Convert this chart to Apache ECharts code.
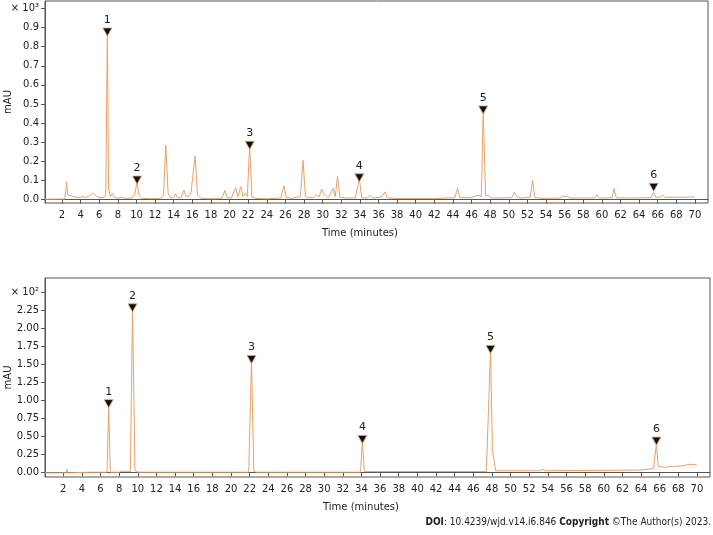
<!DOCTYPE html>
<html>
<head>
<meta charset="utf-8">
<script src="https://cdn.jsdelivr.net/npm/echarts@6/dist/echarts.min.js"></script>
<style>
  html, body { margin: 0; padding: 0; background: #fff; }
  #myChart { width: 713px; height: 535px; }
</style>
</head>
<body>
<div id="myChart"></div>
<script>
// time ticks (minutes)
var timeTicks = [2,4,6,8,10,12,14,16,18,20,22,24,26,28,30,32,34,36,38,40,42,44,46,48,50,52,54,56,58,60,62,64,66,68,70];
var topTicks = [0,100,200,300,400,500,600,700,800,900,1000];
var bottomTicks = [0,25,50,75,100,125,150,175,200,225,250];

// upper chromatogram, [time, mAU]
var topTrace = [
  [0.17,2],[2.3,3],[2.4,8],[2.5,92],[2.6,25],[2.8,18],[3.0,20],[3.2,20],[3.5,12],[3.9,10],[4.3,15],[4.6,12],
  [5.0,22],[5.3,35],[5.6,20],[5.9,12],[6.4,10],[6.7,20],[6.87,885],[7.0,60],[7.2,15],[7.45,32],[7.6,12],
  [8.0,8],[8.5,12],[8.8,6],[9.5,8],[9.8,25],[10.05,88],[10.3,20],[10.6,6],[11.5,5],[12.5,5],[12.9,20],
  [13.15,285],[13.4,30],[13.7,8],[14.0,12],[14.2,30],[14.4,10],[14.8,12],[15.1,50],[15.3,18],[15.6,15],
  [15.85,35],[16.05,25],[16.3,228],[16.55,25],[16.9,8],[17.5,5],[18.5,4],[19.2,8],[19.5,48],[19.75,10],
  [20.2,8],[20.65,62],[20.9,15],[21.2,68],[21.45,15],[21.7,35],[21.9,15],[22.16,280],[22.4,15],[22.8,6],
  [24,4],[25.5,8],[25.85,72],[26.1,12],[26.6,6],[27.6,15],[27.9,205],[28.15,15],[28.6,10],[29.0,10],
  [29.35,25],[29.6,12],[29.9,55],[30.1,30],[30.35,20],[30.6,10],[31.15,58],[31.35,15],[31.6,122],[31.85,12],
  [32.5,8],[33.5,8],[33.94,110],[34.2,10],[34.8,8],[35.1,22],[35.4,8],[36.3,12],[36.7,40],[36.95,10],
  [38,5],[42,5],[44.2,10],[44.5,58],[44.75,10],[46.0,10],[46.5,20],[46.8,22],[47.05,15],[47.25,472],
  [47.5,20],[47.8,22],[48.1,8],[50.3,10],[50.6,38],[50.9,14],[51.3,8],[52.3,12],[52.56,102],[52.8,12],
  [53.5,6],[55.5,8],[55.8,18],[56.0,8],[56.3,15],[56.6,8],[59.2,8],[59.46,25],[59.7,8],[61.1,10],
  [61.3,57],[61.55,10],[62.5,8],[65.3,10],[65.56,40],[65.8,12],[66.2,12],[66.5,22],[66.8,12],[69.0,12],
  [69.3,15],[69.6,13],[70,13]
];
var topPeakTimes = [6.87, 10.06, 22.16, 33.94, 47.25, 65.56];
var topPeakValues = [877, 102, 284, 114, 469, 64];

// lower chromatogram, [time, mAU]
var bottomTrace = [
  [0.04,-1],[2.3,-1],[2.4,4],[2.45,-1],[2.6,-1],[5,0],[6.7,0],[6.87,94],[7.05,0],[8.0,0],[8.3,1.5],[8.5,0],
  [9.2,1],[9.43,227],[9.7,2],[10.0,0],[13.4,0],[13.6,1.5],[13.8,0],[21.9,0],[22.2,156],[22.45,1],[22.8,0],
  [33.9,0],[34.1,44],[34.3,1],[47.4,1],[47.85,170],[48.05,32],[48.2,30],[48.4,2],[53,2],[53.5,4],[53.8,2],
  [64,3],[65.35,5],[65.65,40],[65.85,8],[66.5,7],[68.5,9],[69.2,11],[69.35,9],[70,10]
];
var bottomPeakTimes = [6.87, 9.43, 22.2, 34.1, 47.85, 65.65];
var bottomPeakValues = [95.5, 229, 157, 45.7, 171, 43.3];

var peakLabels = ['1','2','3','4','5','6'];

function peaks(times, values) {
  return times.map(function (t, i) { return { value: [t, values[i]], name: peakLabels[i] }; });
}

var lineColor = '#E9A266';
var axisColor = '#555';
var font = 'DejaVu Sans';

function xAxisCfg(idx, min) {
  return {
    type: 'value', gridIndex: idx, min: min, max: 71.4,
    name: 'Time (minutes)', nameLocation: 'middle', nameGap: 25, nameMoveOverlap: false,
    nameTextStyle: { fontFamily: font, fontSize: 10, color: '#222', padding: [0, 33, 0, 0] },
    axisLine: { lineStyle: { color: axisColor } },
    axisTick: { customValues: timeTicks, length: 4, lineStyle: { color: axisColor } },
    axisLabel: { customValues: timeTicks, fontFamily: font, fontSize: 10, color: '#222', margin: 7 },
    splitLine: { show: false }
  };
}

function yAxisCfg(idx, min, max, ticks, fmt) {
  return {
    type: 'value', gridIndex: idx, min: min, max: max,
    name: 'mAU', nameLocation: 'middle', nameGap: 32, nameMoveOverlap: false,
    nameTextStyle: { fontFamily: font, fontSize: 10, color: '#222' },
    axisLine: { show: true, lineStyle: { color: axisColor } },
    axisTick: { show: true, customValues: ticks, length: 4, lineStyle: { color: axisColor } },
    axisLabel: { customValues: ticks, fontFamily: font, fontSize: 10, color: '#222', margin: 6, formatter: fmt },
    splitLine: { show: false }
  };
}

function markerSeries(idx, times, values) {
  return {
    type: 'scatter', xAxisIndex: idx, yAxisIndex: idx, data: peaks(times, values),
    symbol: 'path://M0,0 L10,0 L5,8 Z', symbolSize: [9, 8], z: 5,
    itemStyle: { color: '#111', opacity: 1, borderColor: lineColor, borderWidth: 0.8 },
    label: { show: true, position: 'top', distance: 2, formatter: '{b}', fontFamily: font, fontSize: 11, color: '#222' }
  };
}

var chart = echarts.init(document.getElementById('myChart'));
chart.setOption({
  animation: false,
  backgroundColor: '#fff',
  grid: [
    { left: 45, right: 5, top: 1, bottom: 332, show: true, borderColor: axisColor, borderWidth: 1, outerBoundsMode: 'none' },
    { left: 45, right: 3, top: 278, bottom: 58, show: true, borderColor: axisColor, borderWidth: 1, outerBoundsMode: 'none' }
  ],
  xAxis: [xAxisCfg(0, 0.17), xAxisCfg(1, 0.04)],
  yAxis: [
    yAxisCfg(0, -18, 1039, topTicks, function (v) { return v === 1000 ? '× 10³' : (v / 1000).toFixed(1); }),
    yAxisCfg(1, -6.7, 270.5, bottomTicks, function (v) { return v === 250 ? '× 10²' : (v / 100).toFixed(2); })
  ],
  series: [
    {
      type: 'line', xAxisIndex: 0, yAxisIndex: 0, data: topTrace, showSymbol: false,
      lineStyle: { color: lineColor, width: 1 }, silent: true
    },
    {
      type: 'line', xAxisIndex: 1, yAxisIndex: 1, data: bottomTrace, showSymbol: false,
      lineStyle: { color: lineColor, width: 1 }, silent: true
    },
    markerSeries(0, topPeakTimes, topPeakValues),
    markerSeries(1, bottomPeakTimes, bottomPeakValues)
  ],
  graphic: [
    {
      type: 'text', right: 2, top: 517,
      style: {
        text: '{b|DOI}: 10.4239/wjd.v14.i6.846 {b|Copyright} ©The Author(s) 2023.',
        fontFamily: 'DejaVu Sans Condensed', fontSize: 10, fill: '#222',
        rich: { b: { fontWeight: 'bold', fontFamily: 'DejaVu Sans Condensed', fontSize: 10 } }
      }
    }
  ]
});
</script>
</body>
</html>
